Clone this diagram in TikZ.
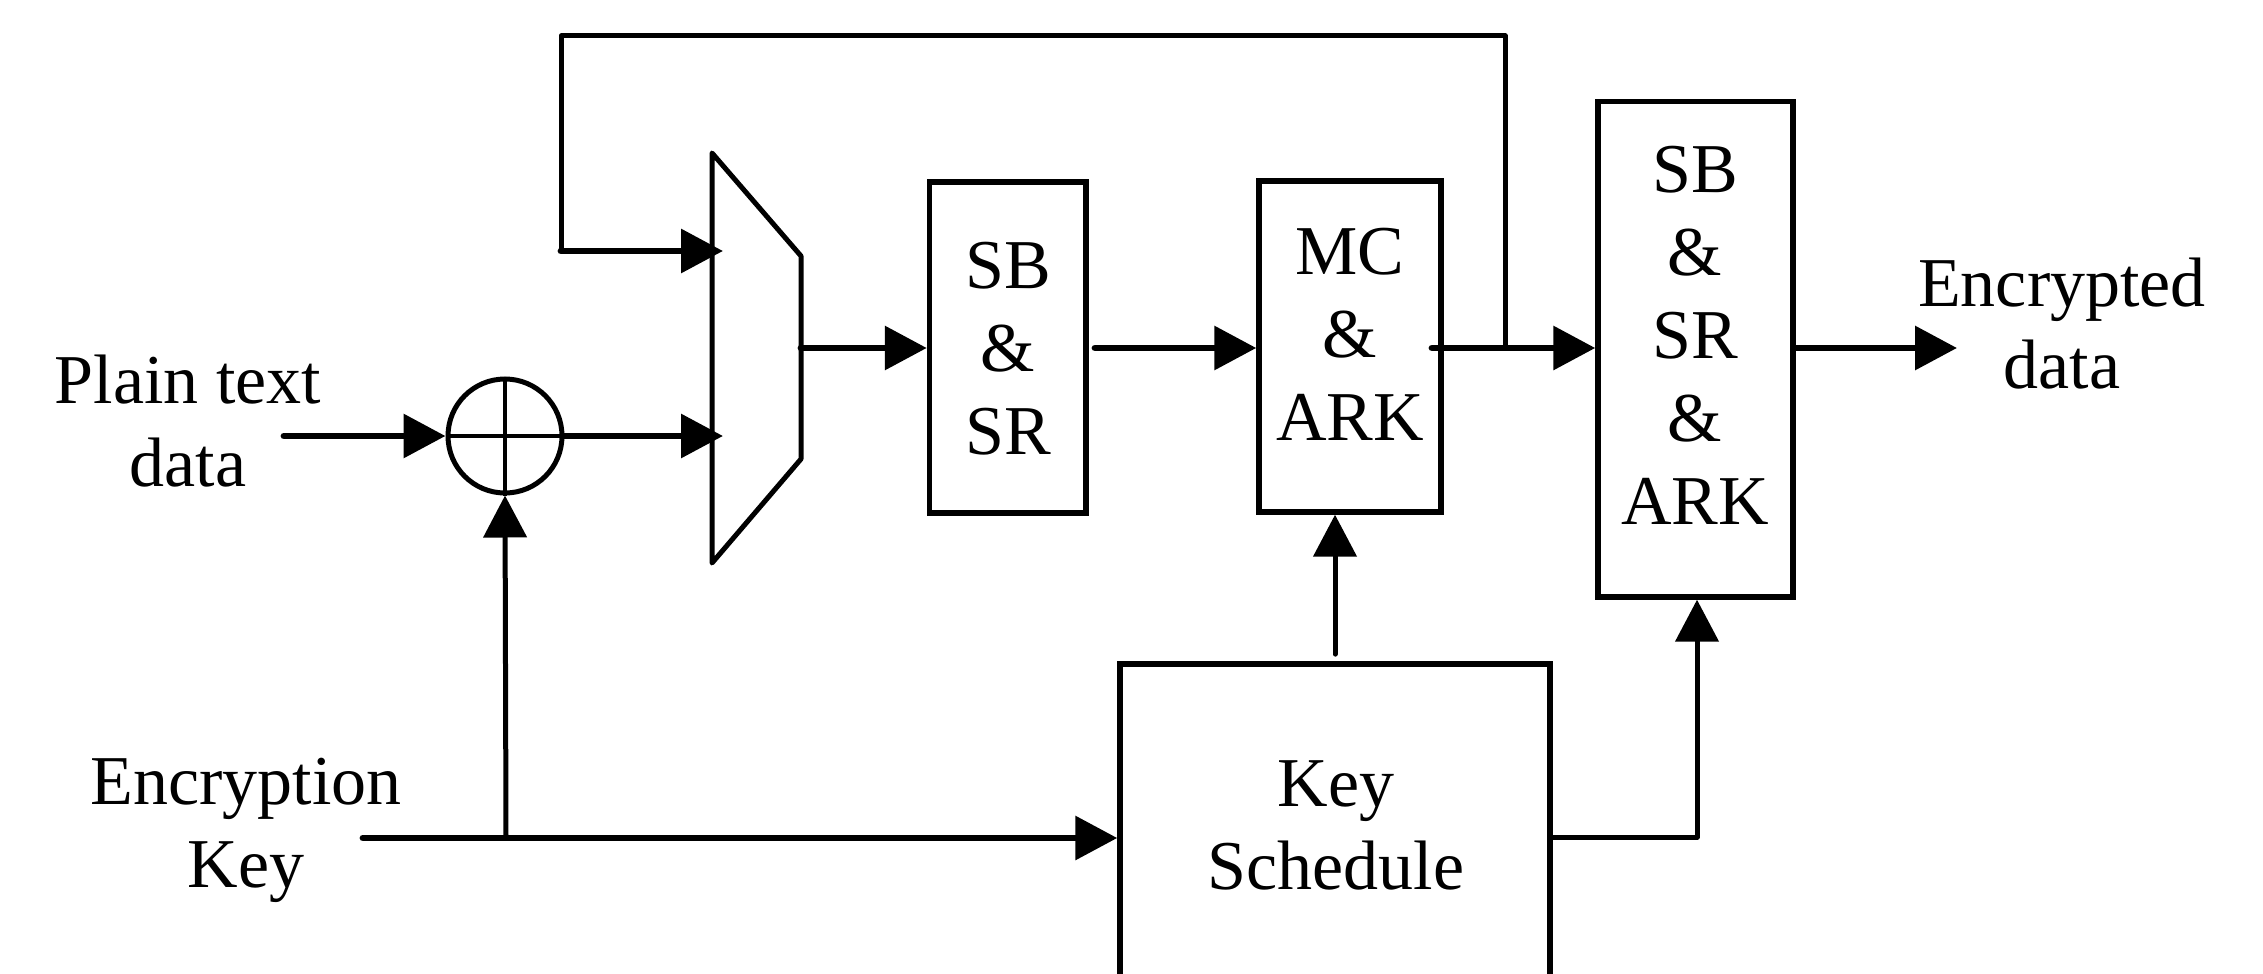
\documentclass[tikz,border=0pt]{standalone}
\usepackage{fontspec}
\setmainfont{Liberation Serif}
\usetikzlibrary{arrows.meta,fit}
\tikzset{
  blk/.style={draw, line width=1.9pt, inner sep=0pt},
  lbl/.style={align=center, inner sep=0pt, font=\fontsize{24.5}{29}\selectfont},
  tip/.style={-{Triangle[length=14.7pt,width=15pt]}},
  data/.style={line width=2.4pt, line cap=round, tip},
  wire/.style={line width=1.75pt, line cap=round},
  wirearrow/.style={wire, tip},
}
\begin{document}
\begin{tikzpicture}[x=0.35pt,y=-0.35pt]
\useasboundingbox (0,0) rectangle (2263,974);
\clip (0,0) rectangle (2263,974);

% processing blocks
\node[blk, fit={(929.5,182) (1086,513)}] (sbsr) {};
\node[blk, fit={(1259,181) (1441,512)}] (mc) {};
\node[blk, fit={(1598,101.5) (1793,597)}] (fin) {};
\node[blk, fit={(1120,664) (1550,1010)}] (ks) {};

\node[lbl] (sbsrtxt) at (1008,349) {SB\\\&\\SR};
\node[lbl] (mctxt) at (1350,334) {MC\\\&\\ARK};
\node[lbl] (fintxt) at (1695,335.5) {SB\\\&\\SR\\\&\\ARK};
\node[lbl] (kstxt) at (1336,825.5) {Key\\Schedule};

% outer labels
\node[lbl] (ptxt) at (188,421) {Plain text\\data};
\node[lbl] (ektxt) at (246,830) {Encryption\\Key};
\node[lbl] (outtxt) at (2062,323.5) {Encrypted\\data};

% multiplexer
\coordinate (m1) at (712,153);
\coordinate (m2) at (801,256);
\coordinate (m3) at (801,459);
\coordinate (m4) at (712,563);
\draw[line width=1.75pt, line join=round] (m1) -- (m2) -- (m3) -- (m4) -- cycle;
\coordinate (muxa) at (723,251);
\coordinate (muxb) at (723,436);
\coordinate (muxo) at (801,348);

% xor
\node[draw, circle, line width=1.75pt, minimum size=114*0.35pt, inner sep=0pt] (xor) at (505,436) {};
\draw[line width=1.4pt] (xor.north) -- (xor.south) (xor.west) -- (xor.east);

% free ends and bends
\coordinate (pin) at (284,436);
\coordinate (kin) at (363,838);
\coordinate (kbr) at (506,838);
\coordinate (fbk) at (1505,348);
\coordinate (fb1) at (1505,36);
\coordinate (fb2) at (561,36);
\coordinate (fb3) at (561,251);
\coordinate (mcout) at (1432,348);
\coordinate (sbout) at (1095,348);
\coordinate (dout) at (1957,348);
\coordinate (ksr) at (1697,837);

% data path
\draw[data] (pin) -- (xor.west);
\draw[data] (xor.east) -- (muxb);
\draw[data] (muxo) -- (muxo -| sbsr.west);
\draw[data] (sbout) -- (sbout -| mc.west);
\draw[data] (mcout) -- (mcout -| fin.west);
\draw[data] (fin.east |- dout) -- (dout);

% feedback loop
\draw[wire, line join=round] (fbk) -- (fb1) -- (fb2) -- (fb3);
\draw[data] (fb3) -- (muxa);

% key path
\draw[data] (kin) -- (kin -| ks.west);
\draw[wirearrow] (kbr) -- (xor.south);
\draw[wirearrow, shorten <=2.5pt] (ks.north) -- (ks.north |- mc.south);
\draw[wirearrow, line join=round] (ks.east |- ksr) -- (ksr) -- (ksr |- fin.south);
\end{tikzpicture}
\end{document}
